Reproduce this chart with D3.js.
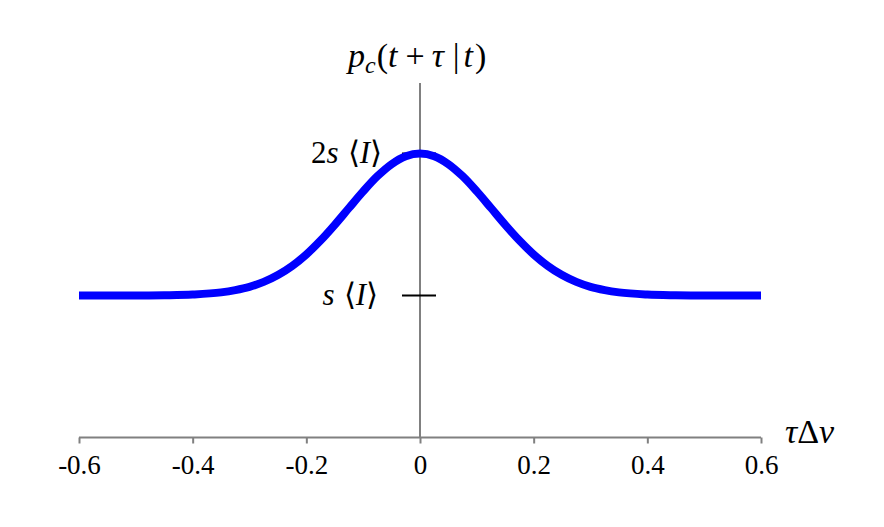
<!DOCTYPE html>
<html><head><meta charset="utf-8">
<script src="https://cdn.jsdelivr.net/npm/d3@7"></script>
<style>body{margin:0;background:#fff;}</style>
</head><body>
<svg id="c" width="884" height="527"></svg>
<script>
// data (y in units of s<I>)
const xValues = [-0.6,-0.5,-0.45,-0.4,-0.35,-0.325,-0.3,-0.275,-0.25,-0.225,-0.2,-0.175,-0.15,-0.125,-0.1,-0.075,-0.05,-0.025,0,
                 0.025,0.05,0.075,0.1,0.125,0.15,0.175,0.2,0.225,0.25,0.275,0.3,0.325,0.35,0.4,0.45,0.5,0.6];
const yValues = [1.0,1.0,1.002,1.007,1.022,1.038,1.061,1.096,1.144,1.208,1.289,1.387,1.498,1.616,1.733,1.84,1.925,1.981,2.0,
                 1.981,1.925,1.84,1.733,1.616,1.498,1.387,1.289,1.208,1.144,1.096,1.061,1.038,1.022,1.007,1.002,1.0,1.0];
const xTicks = [-0.6,-0.4,-0.2,0,0.2,0.4,0.6];
const xTickLabels = ["-0.6","-0.4","-0.2","0","0.2","0.4","0.6"];
const yTicks = [2,1];
const yTickLabels = [["2","s"],["","s"]];

const FONT = '"Liberation Serif"';
const svg = d3.select("#c");
const x = d3.scaleLinear().domain([-0.6,0.6]).range([79,761]);
const y = d3.scaleLinear().domain([0,2]).range([437.5,153.5]);

// x axis
const xa = svg.append("g").attr("transform",`translate(0,${y(0)})`)
  .call(d3.axisBottom(x).tickValues(xTicks).tickSize(6).tickPadding(11)
        .tickFormat((d,i)=>xTickLabels[i]));
xa.select(".domain").attr("stroke","#808080").attr("stroke-width",2).attr("d",`M${x(-0.6)},0H${x(0.6)}`);
xa.selectAll(".tick line").attr("stroke","#808080").attr("stroke-width",2);
xa.selectAll(".tick text").style("font-family",FONT).style("font-size","27px").attr("fill","#000");

// y axis line
svg.append("line").attr("x1",x(0)).attr("x2",x(0)).attr("y1",83).attr("y2",y(0))
  .attr("stroke","#808080").attr("stroke-width",2);

// y ticks (cross both sides)
svg.selectAll(".yt").data(yTicks).join("line")
  .attr("x1",x(0)-18).attr("x2",x(0)+16).attr("y1",d=>y(d)).attr("y2",d=>y(d))
  .attr("stroke","#000").attr("stroke-width",2);

// curve
const line = d3.line().x((d,i)=>x(xValues[i])).y(d=>y(d)).curve(d3.curveMonotoneX);
svg.append("path").datum(yValues).attr("d",line)
  .attr("fill","none").attr("stroke","#0000ff").attr("stroke-width",8).attr("stroke-linejoin","round");

// y tick labels
yTicks.forEach((v,i)=>{
  const t = svg.append("text").attr("x", i===0?382:378).attr("y", y(v)+9)
    .attr("text-anchor","end").style("font-family",FONT).style("font-size","31px");
  if (yTickLabels[i][0]) t.append("tspan").text(yTickLabels[i][0]);
  t.append("tspan").style("font-style","italic").text(yTickLabels[i][1]);
  t.append("tspan").attr("dx",9).text("\u27E8");
  t.append("tspan").style("font-style","italic").text("I");
  t.append("tspan").text("\u27E9");
});

// y title
const tt = svg.append("text").attr("x",348).attr("y",67)
  .style("font-family",FONT).style("font-size","34px");
tt.append("tspan").style("font-style","italic").text("p");
tt.append("tspan").style("font-style","italic").style("font-size","24px").attr("dy",6).text("c");
tt.append("tspan").attr("dy",-6).attr("dx",1).text("(");
tt.append("tspan").style("font-style","italic").text("t");
tt.append("tspan").attr("dx",8).text("+");
tt.append("tspan").attr("dx",7).style("font-style","italic").text("\u03C4");
tt.append("tspan").attr("dx",9).text("|");
tt.append("tspan").attr("dx",4).style("font-style","italic").text("t");
tt.append("tspan").attr("dx",2).text(")");

// x title
const xt = svg.append("text").attr("x",785).attr("y",443).style("font-family",FONT).style("font-size","34px");
xt.append("tspan").style("font-style","italic").text("\u03C4");
xt.append("tspan").text("\u0394");
xt.append("tspan").style("font-style","italic").text("\u03BD");
</script>
</body></html>
